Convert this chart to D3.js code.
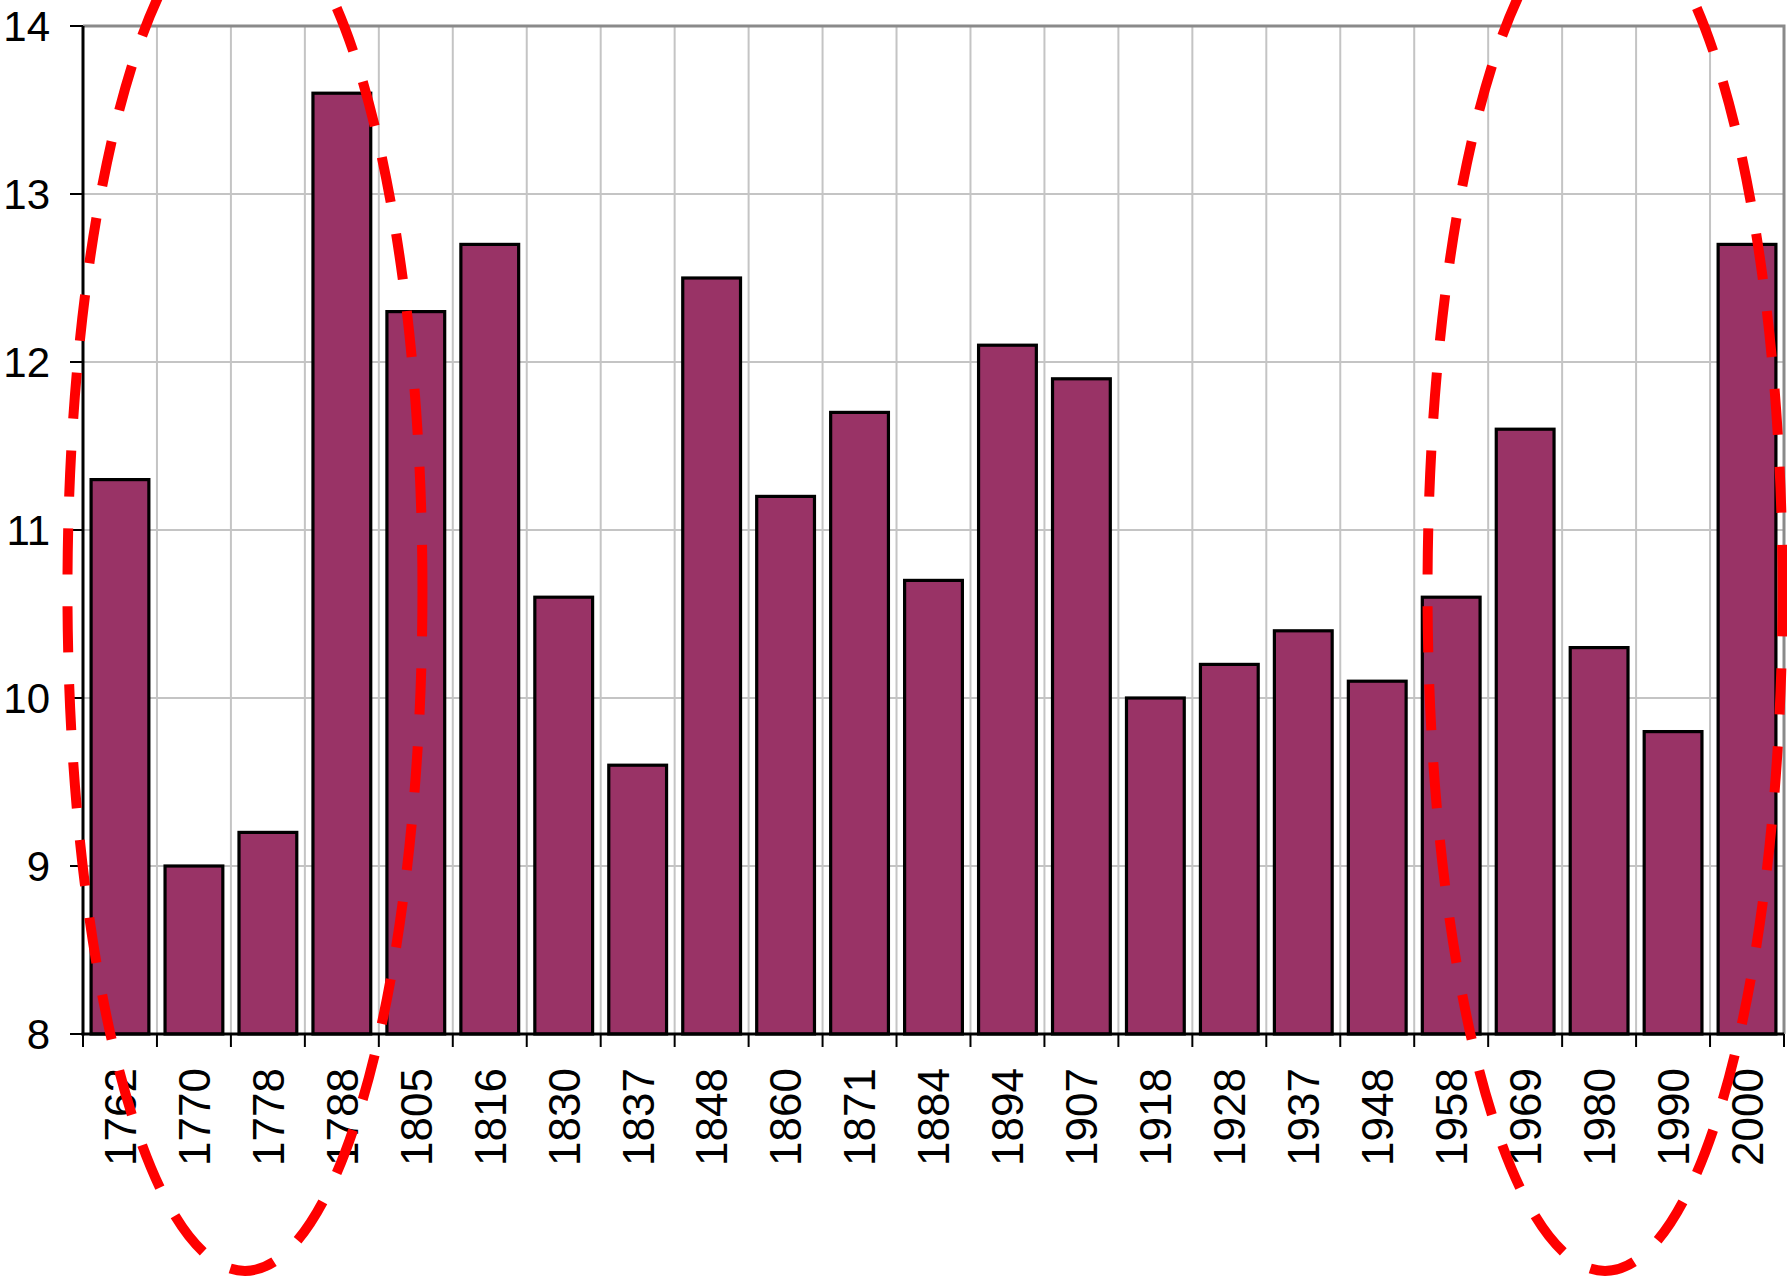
<!DOCTYPE html>
<html>
<head>
<meta charset="utf-8">
<script src="https://cdn.jsdelivr.net/npm/d3@7"></script>
<style>
  html, body { margin: 0; padding: 0; background: #fff; }
  svg { display: block; }
  text { font-family: "Liberation Sans", Arial, sans-serif; fill: #000; }
</style>
</head>
<body>
<svg id="chart" width="1787" height="1277"></svg>
<script>
// Yearly values, one bar per year
const categories = ["1762", "1770", "1778", "1788", "1805", "1816", "1830", "1837", "1848",
  "1860", "1871", "1884", "1894", "1907", "1918", "1928", "1937", "1948", "1958",
  "1969", "1980", "1990", "2000"];
const values = [11.3, 9.0, 9.2, 13.6, 12.3, 12.7, 10.6, 9.6, 12.5,
  11.2, 11.7, 10.7, 12.1, 11.9, 10.0, 10.2, 10.4, 10.1, 10.6,
  11.6, 10.3, 9.8, 12.7];
const yTicks = [8, 9, 10, 11, 12, 13, 14];

// Circled groups of years: centre and half-width in category steps, centre and half-height in value units
const circledCentre = [2.19, 20.58];
const circledHalfWidth = 2.4;
const circledValueCentre = 10.64;
const circledValueHalf = 4.05;

const plot = { left: 83, top: 26, right: 1784, bottom: 1034 };
const gapWidth = 0.28;   // space between bars, as a share of bar width

const svg = d3.select("#chart");

const x = d3.scaleBand()
  .domain(categories)
  .range([plot.left, plot.right])
  .paddingInner(gapWidth / (1 + gapWidth))
  .paddingOuter(gapWidth / 2 / (1 + gapWidth));

const y = d3.scaleLinear()
  .domain([8, 14])
  .range([plot.bottom, plot.top]);

const step = x.step();
const x0 = plot.left;

// Horizontal grid
svg.append("g")
  .selectAll("line")
  .data(yTicks.slice(1, -1))
  .join("line")
  .attr("x1", plot.left).attr("x2", plot.right)
  .attr("y1", d => y(d)).attr("y2", d => y(d))
  .attr("stroke", "#c4c4c4").attr("stroke-width", 2);

// Vertical grid at category boundaries
svg.append("g")
  .selectAll("line")
  .data(d3.range(1, categories.length))
  .join("line")
  .attr("x1", i => x0 + i * step).attr("x2", i => x0 + i * step)
  .attr("y1", plot.top).attr("y2", plot.bottom)
  .attr("stroke", "#c4c4c4").attr("stroke-width", 2);

// Plot area border (top and right)
svg.append("path")
  .attr("d", `M${plot.left},${plot.top}H${plot.right}V${plot.bottom}`)
  .attr("fill", "none").attr("stroke", "#8a8a8a").attr("stroke-width", 3);

// Bars
svg.append("g")
  .selectAll("rect")
  .data(values)
  .join("rect")
  .attr("x", (d, i) => x(categories[i]))
  .attr("width", x.bandwidth())
  .attr("y", d => y(d))
  .attr("height", d => y(8) - y(d))
  .attr("fill", "#993366")
  .attr("stroke", "#000")
  .attr("stroke-width", 3.2);

// Y axis
const yAxis = svg.append("g");
yAxis.append("line")
  .attr("x1", plot.left).attr("x2", plot.left)
  .attr("y1", plot.top).attr("y2", plot.bottom + 1.5)
  .attr("stroke", "#000").attr("stroke-width", 3);
yAxis.selectAll("line.tick")
  .data(yTicks)
  .join("line").attr("class", "tick")
  .attr("x1", plot.left - 13).attr("x2", plot.left)
  .attr("y1", d => y(d)).attr("y2", d => y(d))
  .attr("stroke", "#000").attr("stroke-width", 2);
yAxis.selectAll("text")
  .data(yTicks)
  .join("text")
  .attr("x", 50)
  .attr("y", d => y(d))
  .attr("dy", "0.36em")
  .attr("text-anchor", "end")
  .style("font-size", "42px")
  .text(d => d);

// X axis
const xAxis = svg.append("g");
xAxis.append("line")
  .attr("x1", plot.left - 1.5).attr("x2", plot.right)
  .attr("y1", plot.bottom).attr("y2", plot.bottom)
  .attr("stroke", "#000").attr("stroke-width", 3);
xAxis.selectAll("line.tick")
  .data(d3.range(0, categories.length + 1))
  .join("line").attr("class", "tick")
  .attr("x1", i => x0 + i * step).attr("x2", i => x0 + i * step)
  .attr("y1", plot.bottom).attr("y2", plot.bottom + 13)
  .attr("stroke", "#000").attr("stroke-width", 2);
xAxis.selectAll("text")
  .data(categories)
  .join("text")
  .attr("transform", d => `translate(${x(d) + x.bandwidth() / 2},${plot.bottom + 34}) rotate(-90)`)
  .attr("dy", "0.36em")
  .attr("text-anchor", "end")
  .style("font-size", "44px")
  .text(d => d);

// Dashed red ellipses around the circled year groups
svg.append("g")
  .selectAll("ellipse")
  .data(circledCentre)
  .join("ellipse")
  .attr("cx", c => x0 + c * step)
  .attr("cy", y(circledValueCentre))
  .attr("rx", circledHalfWidth * step)
  .attr("ry", y(circledValueCentre - circledValueHalf) - y(circledValueCentre))
  .attr("fill", "none")
  .attr("stroke", "#ff0000")
  .attr("stroke-width", 10)
  .attr("stroke-dasharray", "46,32");
</script>
</body>
</html>
